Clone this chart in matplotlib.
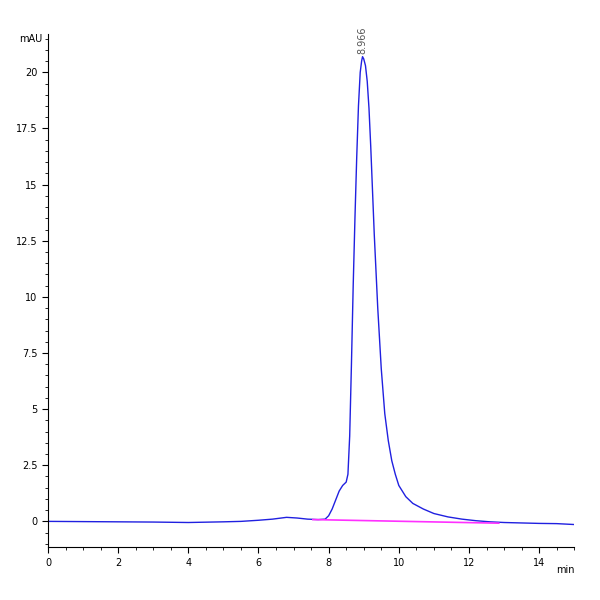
import matplotlib
matplotlib.use("Agg")
import matplotlib.pyplot as plt
import numpy as np
from matplotlib.ticker import MultipleLocator

t = [0, 1, 2, 3, 4, 5, 5.5, 6.0, 6.4, 6.8, 7.1, 7.4, 7.7, 7.9, 8.0, 8.1, 8.2, 8.3, 8.4, 8.5, 8.55, 8.6, 8.65, 8.7, 8.75, 8.8, 8.85, 8.9, 8.94, 8.966, 9.0, 9.05, 9.1, 9.15, 9.2, 9.3, 9.4, 9.5, 9.6, 9.7, 9.8, 9.9, 10.0, 10.2, 10.4, 10.7, 11.0, 11.4, 11.8, 12.2, 12.6, 13.0, 13.5, 14.0, 14.5, 15.0]
y = [0.0, -0.01, -0.02, -0.03, -0.05, -0.02, 0.0, 0.05, 0.1, 0.18, 0.15, 0.1, 0.08, 0.1, 0.25, 0.55, 0.95, 1.35, 1.6, 1.75, 2.1, 3.8, 7.0, 10.5, 13.5, 16.2, 18.5, 20.0, 20.5, 20.7, 20.6, 20.3, 19.6, 18.4, 16.7, 12.8, 9.5, 6.8, 4.8, 3.6, 2.7, 2.1, 1.6, 1.1, 0.8, 0.55, 0.35, 0.2, 0.1, 0.03, -0.02, -0.05, -0.07, -0.09, -0.1, -0.14]
base_t = [7.55, 12.85]
base_y = [0.08, -0.08]
peak_t = 8.966
peak_label = "8.966"

fig = plt.figure(figsize=(6, 6), dpi=100)
ax = fig.add_axes([0.08, 0.088, 0.877, 0.855])
ax.plot(t, y, color="#2020e0", lw=1.0)
ax.plot(base_t, base_y, color="#ff30ff", lw=1.2)
ax.text(peak_t, 20.8, peak_label, rotation=90, ha="center", va="bottom", fontsize=7, color="#555555")
ax.set_xlim(0, 15)
ax.set_ylim(-1.15, 21.7)
ax.xaxis.set_major_locator(MultipleLocator(2))
ax.xaxis.set_minor_locator(MultipleLocator(0.5))
ax.yaxis.set_major_locator(MultipleLocator(2.5))
ax.yaxis.set_minor_locator(MultipleLocator(0.5))
ax.yaxis.set_major_formatter(matplotlib.ticker.FuncFormatter(lambda v, p: f"{v:g}"))
for s in ["top", "right"]:
    ax.spines[s].set_visible(False)
ax.tick_params(labelsize=7, length=4)
ax.tick_params(which="minor", length=2)
ax.text(-0.01, 1.0, "mAU", transform=ax.transAxes, ha="right", va="top", fontsize=7)
ax.text(1.0, -0.045, "min", transform=ax.transAxes, ha="right", va="center", fontsize=7)
fig.savefig("out.png")
